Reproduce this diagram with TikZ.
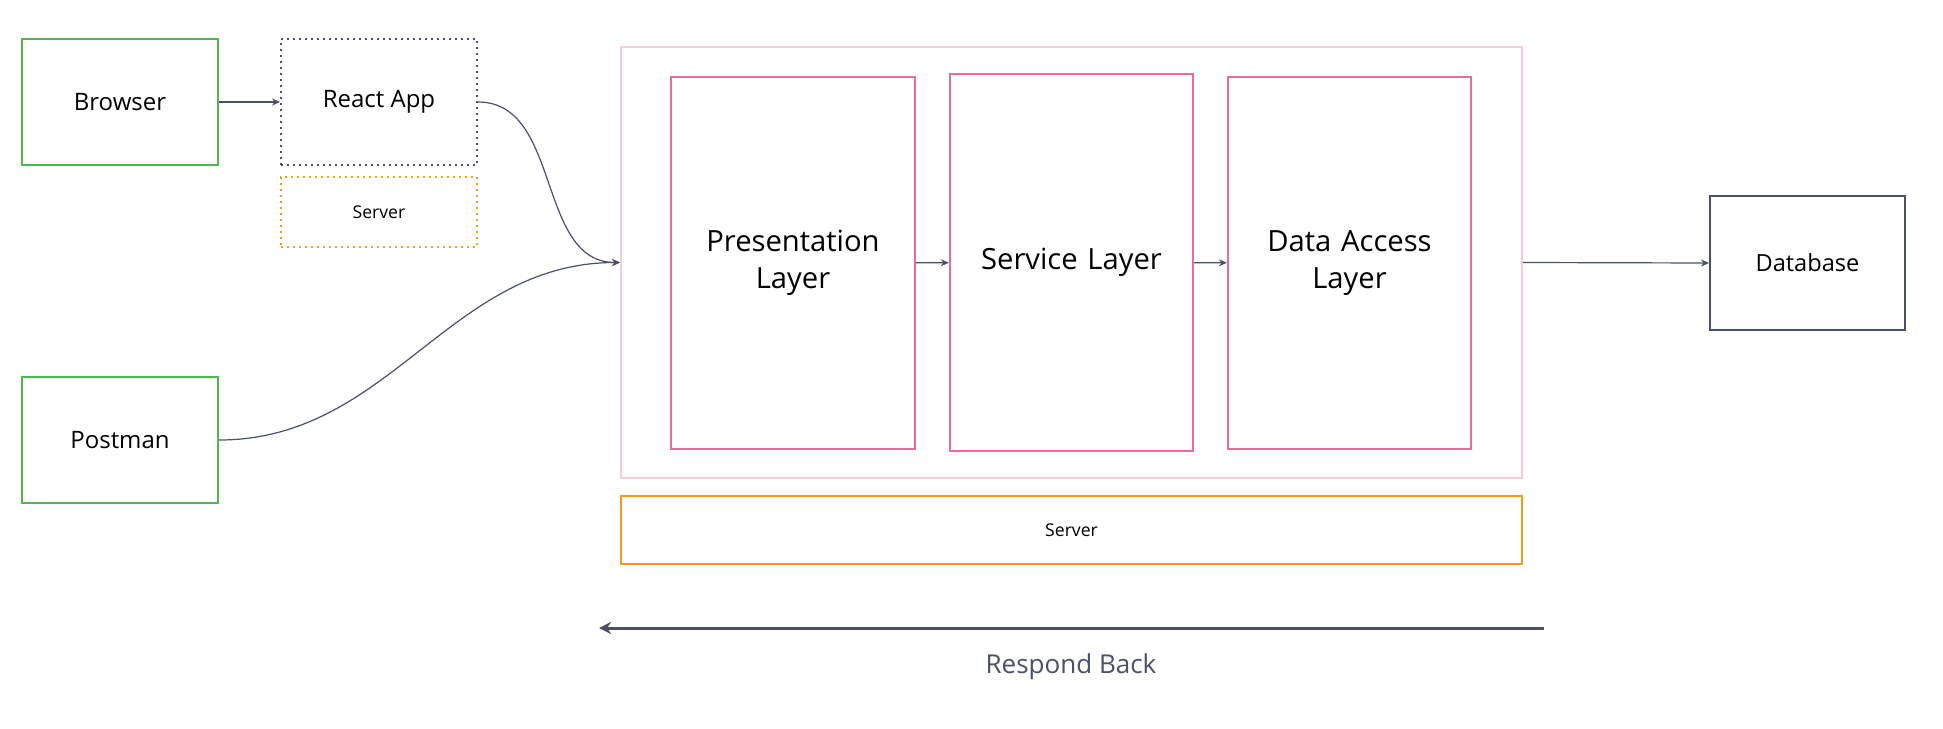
\documentclass[tikz,border=0pt]{standalone}
\usepackage{xcolor}
\usepackage{fontspec}
\setmainfont{Open Sans}
\usepackage{tikz}
\usetikzlibrary{positioning,arrows.meta}
\definecolor{grn}{HTML}{4DB84F}
\definecolor{pnk}{HTML}{EC6B9A}
\definecolor{lpnk}{HTML}{F8CADB}
\definecolor{orng}{HTML}{F29B1E}
\definecolor{slate}{HTML}{4A5066}

\begin{document}
\begin{tikzpicture}[x=0.5pt,y=-0.5pt,
  client/.style={draw=grn,line width=1pt,minimum width=98pt,minimum height=63pt,font=\fontsize{12}{14}\selectfont},
  app/.style={draw=slate,line width=1pt,dash pattern={on 1pt off 2pt},minimum width=98pt,minimum height=63pt,font=\fontsize{12}{14}\selectfont},
  srvs/.style={draw=orng,line width=1pt,dash pattern={on 1pt off 2pt},minimum width=98pt,minimum height=35pt,font=\fontsize{8.8}{10}\selectfont},
  layer/.style={draw=pnk,line width=1pt,minimum width=120pt,minimum height=186pt,text width=115pt,align=center,font=\fontsize{14.6}{18.5}\selectfont},
  outer/.style={draw=lpnk,line width=1pt,minimum width=450.5pt,minimum height=215.5pt},
  srvb/.style={draw=orng,line width=1pt,minimum width=450.5pt,minimum height=34pt,font=\fontsize{8.8}{10}\selectfont},
  db/.style={draw=slate,line width=1pt,minimum width=97.5pt,minimum height=67pt,font=\fontsize{11.8}{14}\selectfont},
  arr/.style={-{Stealth[length=4pt,width=3.5pt]},draw=slate,line width=0.6pt}]
\useasboundingbox (0,0) rectangle (1943,728);
% clients
\node[client] (browser) at (120,102) {Browser};
\node[app] (react) at (379,102) {React App};
\node[srvs] (srvs) at (379,212) {Server};
\node[client] (postman) at (120,440) {Postman};
% backend
\node[outer] (backend) at (1071.5,262.5) {};
\node[layer] (pres) at (793,263) {Presentation\\Layer};
\node[layer,minimum height=188.5pt] (serv) at (1071.5,262.5) {Service Layer};
\node[layer] (dal) at (1349.5,263) {Data Access\\Layer};
\node[srvb] (srvb) at (1071.5,530) {Server};
\node[db] (db) at (1807.5,263) {Database};
% requests
\draw[arr] (browser)--(react);
\draw[arr] (react.east) to[out=0,in=180] (backend.west);
\draw[arr] (postman.east) to[out=0,in=180] (backend.west);
\draw[arr] (pres)--(serv);
\draw[arr] (serv)--(dal);
\draw[arr] (backend.east)--(db.west);
% response
\coordinate (rs) at (1544,628);
\coordinate (re) at (599,628);
\draw[-{Stealth[length=6pt,width=6pt]},slate,line width=1.5pt] (rs)--(re);
\node[slate,font=\fontsize{13}{15}\selectfont] (resp) at (1071,667) {Respond Back};
\end{tikzpicture}
\end{document}
